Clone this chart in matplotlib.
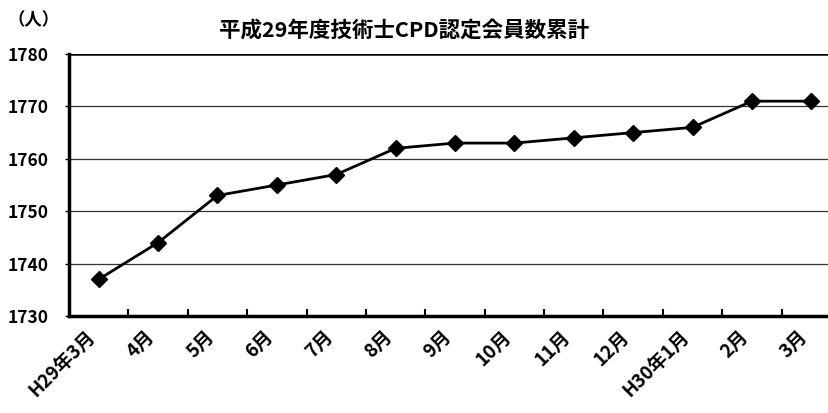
import matplotlib
matplotlib.use("Agg")
import matplotlib.pyplot as plt
from matplotlib.ticker import FixedLocator
from matplotlib.transforms import ScaledTranslation

plt.rcParams['font.family'] = ['Noto Sans CJK JP', 'DejaVu Sans']

categories = ["H29年3月", "4月", "5月", "6月", "7月", "8月", "9月", "10月", "11月", "12月", "H30年1月", "2月", "3月"]
values = [1737, 1744, 1753, 1755, 1757, 1762, 1763, 1763, 1764, 1765, 1766, 1771, 1771]
y_ticks = [1730, 1740, 1750, 1760, 1770, 1780]
title = "平成29年度技術士CPD認定会員数累計"
unit = "（人）"

fig = plt.figure(figsize=(8.29, 4.13), dpi=100)
ax = fig.add_axes([69/829, 97/413, (841-69)/829, (316-54)/413])
x = list(range(len(categories)))
ax.plot(x, values, color='black', lw=2, marker='D', markersize=8.5, zorder=3, clip_on=False)

ax.set_xlim(-0.5, len(categories) - 0.5)
ax.set_ylim(y_ticks[0], y_ticks[-1])
ax.set_yticks(y_ticks)
ax.set_yticklabels([str(v) for v in y_ticks], fontsize=12.5, fontweight='bold')
for v in y_ticks[1:-1]:
    ax.axhline(v, color='#333333', lw=0.9, zorder=1)
ax.axhline(y_ticks[-1], color='black', lw=1.8, zorder=1)

ax.set_xticks(x)
ax.set_xticklabels(categories, rotation=45, ha='right', va='top', fontsize=13.5, fontweight='bold')
offset = ScaledTranslation(-8/100, -4/100, fig.dpi_scale_trans)
for lbl in ax.get_xticklabels():
    lbl.set_transform(lbl.get_transform() + offset)
ax.tick_params(axis='x', which='major', length=0, pad=8)
ax.xaxis.set_minor_locator(FixedLocator([i + 0.5 for i in range(len(categories) - 1)]))
ax.tick_params(axis='x', which='minor', direction='in', length=5, width=1.5)
ax.tick_params(axis='y', length=3, width=1, pad=12)

for s in ['top', 'right']:
    ax.spines[s].set_visible(False)
ax.spines['left'].set_linewidth(2.5)
ax.spines['bottom'].set_linewidth(2.5)

fig.text(404/829, 1 - 30/413, title, ha='center', va='center', fontsize=15.5, fontweight='bold')
fig.text(34/829, 1 - 20/413, unit, ha='center', va='center', fontsize=12.5, fontweight='bold')

fig.savefig("out.png", dpi=100)
